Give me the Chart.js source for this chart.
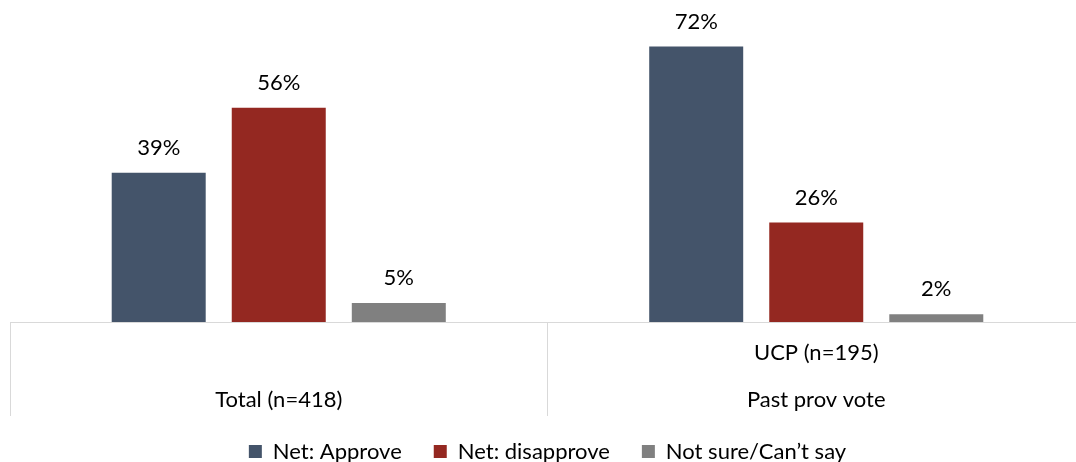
<!DOCTYPE html>
<html>
<head>
<meta charset="utf-8">
<script src="https://cdn.jsdelivr.net/npm/chart.js@4.4.1/dist/chart.umd.min.js"></script>
<style>
  html, body { margin: 0; padding: 0; background: #fff; overflow: hidden; }
  #wrap { width: 1086px; height: 462px; }
</style>
</head>
<body>
<div id="wrap"><canvas id="approval_chart"></canvas></div>
<script>
// Категорії та значення
const categories = [['', 'Total (n=418)'], ['UCP (n=195)', 'Past prov vote']];
const approve = [39, 72];
const disapprove = [56, 26];
const not_sure = [5, 2];
const series_labels = ['Net: Approve', 'Net: disapprove', 'Not sure/Can\u2019t say'];

// Підписи над стовпчиками
const bar_values = {
    id: 'bar_values',
    afterDatasetsDraw(chart) {
        const ctx = chart.ctx;
        ctx.save();
        ctx.font = '22px Lato';
        ctx.fillStyle = '#000';
        ctx.textAlign = 'center';
        ctx.textBaseline = 'middle';
        chart.data.datasets.forEach((ds, i) => {
            chart.getDatasetMeta(i).data.forEach((bar, j) => {
                ctx.fillText(ds.data[j] + '%', bar.x, bar.y - 25);
            });
        });
        ctx.restore();
    }
};

// Легенда трохи вище (padding між пунктами великий)
const legend_lift = {
    id: 'legend_lift',
    afterLayout(chart) {
        chart.legend.top -= 8;
    }
};

let approval_chart = new Chart(document.getElementById('approval_chart').getContext('2d'), {
    type: 'bar',
    data: {
        labels: categories,
        datasets: [{
            label: series_labels[0],
            data: approve,
            backgroundColor: '#44546A'
        }, {
            label: series_labels[1],
            data: disapprove,
            backgroundColor: '#942821'
        }, {
            label: series_labels[2],
            data: not_sure,
            backgroundColor: '#808080'
        }]
    },
    options: {
        responsive: true,
        maintainAspectRatio: false,
        animation: false,
        datasets: {
            bar: { categoryPercentage: 0.67, barPercentage: 0.783 }
        },
        layout: { padding: { left: 10, right: 1, top: 16, bottom: 0 } },
        scales: {
            x: {
                grid: {
                    offset: true,
                    drawOnChartArea: false,
                    tickLength: 94,
                    color: '#d9d9d9',
                    lineWidth: 1
                },
                border: { color: '#d9d9d9', width: 1 },
                ticks: {
                    padding: -86.5,
                    maxRotation: 0,
                    autoSkip: false,
                    color: '#000',
                    font: { family: 'Lato', size: 22, lineHeight: 47 / 22 }
                },
                afterFit: (scale) => { scale.height = 94.5; }
            },
            y: {
                display: false,
                min: 0,
                max: 80
            }
        },
        plugins: {
            tooltip: { enabled: false },
            legend: {
                position: 'bottom',
                maxHeight: 45.5,
                labels: {
                    boxWidth: 13,
                    boxHeight: 13,
                    padding: 32,
                    color: '#000',
                    font: { family: 'Lato', size: 22 }
                }
            }
        }
    },
    plugins: [bar_values, legend_lift]
});
</script>
</body>
</html>
